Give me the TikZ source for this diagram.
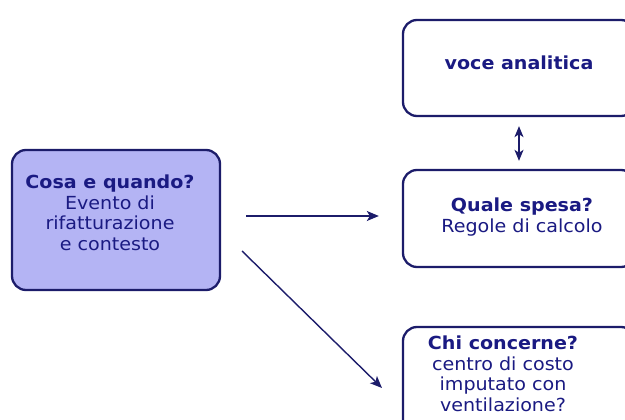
\documentclass[tikz,border=0pt]{standalone}
\usepackage{xcolor}
\usepackage{fontspec}
\usepackage{tikz}
\usetikzlibrary{arrows.meta}
\newfontfamily\boxfont[FakeStretch=1.06]{DejaVu Sans}
\definecolor{Edge}{HTML}{1C1C6A}
\definecolor{Ink}{HTML}{1A1A82}
\definecolor{Lilac}{HTML}{B4B4F4}
\tikzset{
  box/.style={draw=Edge, line width=2.3pt, rounded corners=14pt, fill=white},
  txt/.style={text=Ink, align=center, font=\boxfont\fontsize{18}{20.5}\selectfont},
  arr/.style={draw=Edge, line width=1.4pt, -{Stealth[length=12pt,width=10pt,inset=3pt]}},
  dbl/.style={draw=Edge, line width=1.4pt, {Stealth[length=11pt,width=9pt,inset=3pt]}-{Stealth[length=11pt,width=9pt,inset=3pt]}}
}
\begin{document}
\begin{tikzpicture}[x=1pt, y=-1pt]%
\useasboundingbox (0,0) rectangle (625,420);%
\clip (0,0) rectangle (625,420);%
% evento
\node[box, fill=Lilac, minimum width=208pt, minimum height=140pt] (cosa) at (116,220) {};%
\node[txt] (cosatxt) at (110,213) {\textbf{Cosa e quando?}\\Evento di\\rifatturazione\\e contesto};%
% voce analitica
\node[box, minimum width=232pt, minimum height=96pt] (voce) at (519,68) {};%
\node[txt] (vocetxt) at (519,63) {\textbf{voce analitica}};%
% spesa
\node[box, minimum width=232pt, minimum height=97pt] (spesa) at (519,218.5) {};%
\node[txt] (spesatxt) at (522,217) {\textbf{Quale spesa?}\\Regole di calcolo};%
% centro di costo
\node[box, minimum width=232pt, minimum height=110pt] (chi) at (519,382) {};%
\node[txt] (chitxt) at (503,374) {\textbf{Chi concerne?}\\centro di costo\\imputato con\\ventilazione?};%
% frecce
\coordinate (d1) at (242,251);%
\coordinate (d2) at (382,388);%
\draw[arr, shorten <=25pt, shorten >=23pt] ([yshift=4pt]cosa.east) -- ([yshift=4pt]cosa.east -| spesa.west);%
\draw[arr] (d1) -- (d2);%
\draw[dbl, shorten <=9pt, shorten >=8pt] (voce.south) -- (spesa.north);%
\end{tikzpicture}
\end{document}
